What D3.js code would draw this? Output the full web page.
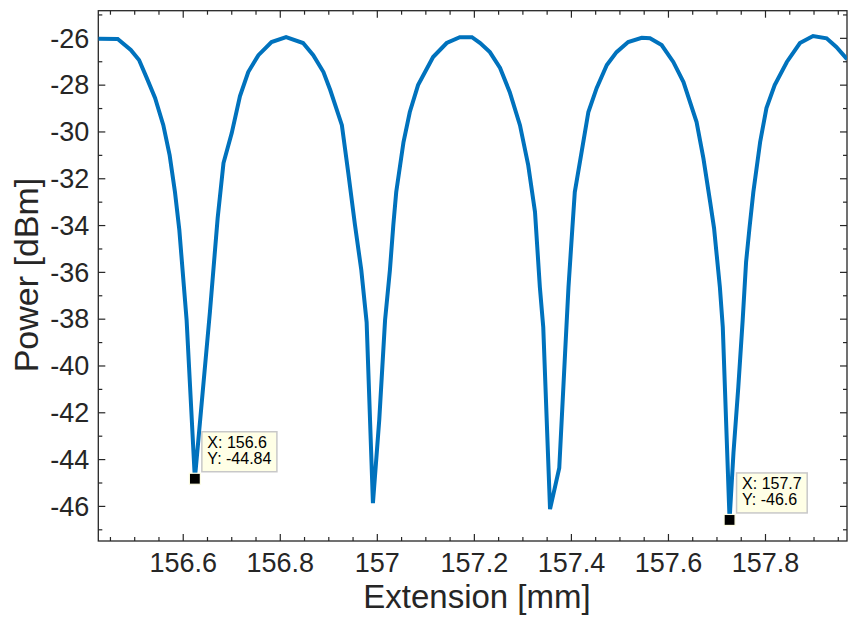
<!DOCTYPE html>
<html>
<head>
<meta charset="utf-8">
<script src="https://cdn.jsdelivr.net/npm/d3@7"></script>
<style>
  html, body { margin: 0; padding: 0; background: #ffffff; }
  svg { display: block; }
  text { font-family: 'Liberation Sans', Arial, Helvetica, sans-serif; }
</style>
</head>
<body>
<svg id="chart" width="849" height="617"></svg>
<script>
// ---------------- data ----------------
const extension = [
  156.426, 156.466, 156.493, 156.510, 156.526, 156.543, 156.560, 156.573, 156.584, 156.593,
  156.608, 156.625, 156.656, 156.672, 156.684, 156.701, 156.718, 156.735, 156.756, 156.783,
  156.813, 156.848, 156.869, 156.890, 156.904, 156.928, 156.941, 156.955, 156.968, 156.979,
  156.992, 157.005, 157.017, 157.027, 157.034, 157.040, 157.055, 157.068, 157.085, 157.116,
  157.144, 157.171, 157.196, 157.213, 157.233, 157.254, 157.274, 157.295, 157.312, 157.326,
  157.336, 157.343, 157.357, 157.376, 157.388, 157.395, 157.403, 157.408, 157.422, 157.436,
  157.453, 157.474, 157.494, 157.518, 157.546, 157.563, 157.587, 157.611, 157.632, 157.659,
  157.673, 157.687, 157.695, 157.707, 157.713, 157.727, 157.735, 157.745, 157.754, 157.761,
  157.768, 157.776, 157.790, 157.803, 157.820, 157.845, 157.872, 157.899, 157.927, 157.947,
  157.969
];
const power = [
  -26.04, -26.05, -26.52, -26.95, -27.72, -28.57, -29.73, -31.01, -32.59, -34.21,
  -38.06, -44.84, -37.72, -33.70, -31.35, -30.07, -28.49, -27.46, -26.74, -26.18,
  -25.97, -26.22, -26.74, -27.46, -28.23, -29.73, -31.74, -34.00, -35.92, -38.15,
  -45.88, -42.33, -38.06, -35.92, -34.00, -32.59, -30.45, -29.17, -28.02, -26.82,
  -26.22, -25.97, -25.97, -26.22, -26.61, -27.29, -28.32, -29.73, -31.44, -33.44,
  -36.65, -38.36, -46.14, -44.38, -39.47, -36.65, -34.13, -32.59, -30.88, -29.17,
  -28.15, -27.16, -26.61, -26.18, -26.00, -26.02, -26.31, -27.03, -27.89, -29.60,
  -31.14, -33.02, -34.13, -36.65, -38.36, -46.60, -43.74, -40.92, -38.06, -35.58,
  -34.13, -32.59, -30.45, -29.00, -28.02, -27.03, -26.22, -25.92, -26.02, -26.39,
  -26.91
];
const xTickValues = [156.6, 156.8, 157, 157.2, 157.4, 157.6, 157.8];
const yTickValues = [-46, -44, -42, -40, -38, -36, -34, -32, -30, -28, -26];
const xDomain = [156.426, 157.969];
const yDomain = [-47.5, -24.84];
const xLabel = "Extension [mm]";
const yLabel = "Power [dBm]";
const datatipX = [156.625, 157.727];
const datatipY = [-44.84, -46.6];

// ---------------- layout ----------------
const plot = { left: 98.3, top: 10.7, right: 847, bottom: 541 };
const axisColor = "#262626";
const lineColor = "#0072BD";
const tickFont = 27;

const svg = d3.select("#chart");
const x = d3.scaleLinear().domain(xDomain).range([plot.left, plot.right]);
const y = d3.scaleLinear().domain(yDomain).range([plot.bottom, plot.top]);

const fmt = v => String(+v.toFixed(4));

const xMinor = d3.range(156.45, 157.951, 0.05).map(v => +v.toFixed(3))
  .filter(v => !xTickValues.some(t => Math.abs(t - v) < 1e-6));
const yMinor = d3.range(-47, -24.5, 1)
  .filter(v => !yTickValues.includes(v));

function styleAxis(g) {
  g.select(".domain").remove();
  g.selectAll(".tick line").attr("stroke", axisColor).attr("stroke-width", 1.2);
  g.selectAll("text").attr("fill", axisColor).attr("font-size", tickFont);
}

// minor ticks
svg.append("g").attr("transform", `translate(0,${plot.bottom})`)
  .call(d3.axisBottom(x).tickValues(xMinor).tickSize(-4).tickFormat(""))
  .call(styleAxis);
svg.append("g").attr("transform", `translate(0,${plot.top})`)
  .call(d3.axisTop(x).tickValues(xMinor).tickSize(-4).tickFormat(""))
  .call(styleAxis);
svg.append("g").attr("transform", `translate(${plot.left},0)`)
  .call(d3.axisLeft(y).tickValues(yMinor).tickSize(-4).tickFormat(""))
  .call(styleAxis);
svg.append("g").attr("transform", `translate(${plot.right},0)`)
  .call(d3.axisRight(y).tickValues(yMinor).tickSize(-4).tickFormat(""))
  .call(styleAxis);

// major ticks
const gx = svg.append("g").attr("transform", `translate(0,${plot.bottom})`)
  .call(d3.axisBottom(x).tickValues(xTickValues).tickSize(-7).tickFormat(fmt))
  .call(styleAxis);
gx.selectAll("text").attr("y", 31).attr("dy", null);
svg.append("g").attr("transform", `translate(0,${plot.top})`)
  .call(d3.axisTop(x).tickValues(xTickValues).tickSize(-7).tickFormat(""))
  .call(styleAxis);
const gy = svg.append("g").attr("transform", `translate(${plot.left},0)`)
  .call(d3.axisLeft(y).tickValues(yTickValues).tickSize(-7).tickFormat(fmt))
  .call(styleAxis);
gy.selectAll("text").attr("x", -9).attr("dy", "0.34em");
svg.append("g").attr("transform", `translate(${plot.right},0)`)
  .call(d3.axisRight(y).tickValues(yTickValues).tickSize(-7).tickFormat(""))
  .call(styleAxis);

// box
svg.append("rect")
  .attr("x", plot.left).attr("y", plot.top)
  .attr("width", plot.right - plot.left).attr("height", plot.bottom - plot.top)
  .attr("fill", "none").attr("stroke", axisColor).attr("stroke-width", 1.3);

// clip
svg.append("clipPath").attr("id", "clip").append("rect")
  .attr("x", plot.left).attr("y", plot.top)
  .attr("width", plot.right - plot.left).attr("height", plot.bottom - plot.top);

// line
const pts = extension.map((e, i) => [e, power[i]]);
svg.append("path")
  .datum(pts)
  .attr("clip-path", "url(#clip)")
  .attr("fill", "none")
  .attr("stroke", lineColor)
  .attr("stroke-width", 4)
  .attr("stroke-linejoin", "miter")
  .attr("d", d3.line().x(d => x(d[0])).y(d => y(d[1])));

// axis labels
svg.append("text")
  .attr("x", 477).attr("y", 608)
  .attr("text-anchor", "middle")
  .attr("font-size", 33)
  .attr("fill", axisColor)
  .text(xLabel);
svg.append("text")
  .attr("transform", `translate(38,275) rotate(-90)`)
  .attr("text-anchor", "middle")
  .attr("font-size", 34)
  .attr("fill", axisColor)
  .text(yLabel);

// datatips
const tipFmt = d3.format(".4");
datatipX.forEach((dx, i) => {
  const px = x(dx), py = y(datatipY[i]);
  const g = svg.append("g");
  const lines = ["X: " + tipFmt(dx).replace("\u2212", "-"),
                 "Y: " + tipFmt(datatipY[i]).replace("\u2212", "-")];
  const bx = px + 7, by = py - 47;
  const rect = g.append("rect")
    .attr("x", bx).attr("y", by).attr("height", 40)
    .attr("fill", "#FFFFE6").attr("stroke", "#c8c8c8").attr("stroke-width", 1.5);
  let maxW = 0;
  lines.forEach((t, k) => {
    const tx = g.append("text")
      .attr("x", bx + 5.5).attr("y", by + 16.5 + k * 16)
      .attr("font-size", 16).attr("fill", "#000").text(t);
    maxW = Math.max(maxW, tx.node().getComputedTextLength());
  });
  rect.attr("width", maxW + 11);
  g.append("rect")
    .attr("x", px - 5.5).attr("y", py - 5.5).attr("width", 11).attr("height", 11)
    .attr("fill", "#000").attr("stroke", "#FFFFE6").attr("stroke-width", 1.2);
});
</script>
</body>
</html>
